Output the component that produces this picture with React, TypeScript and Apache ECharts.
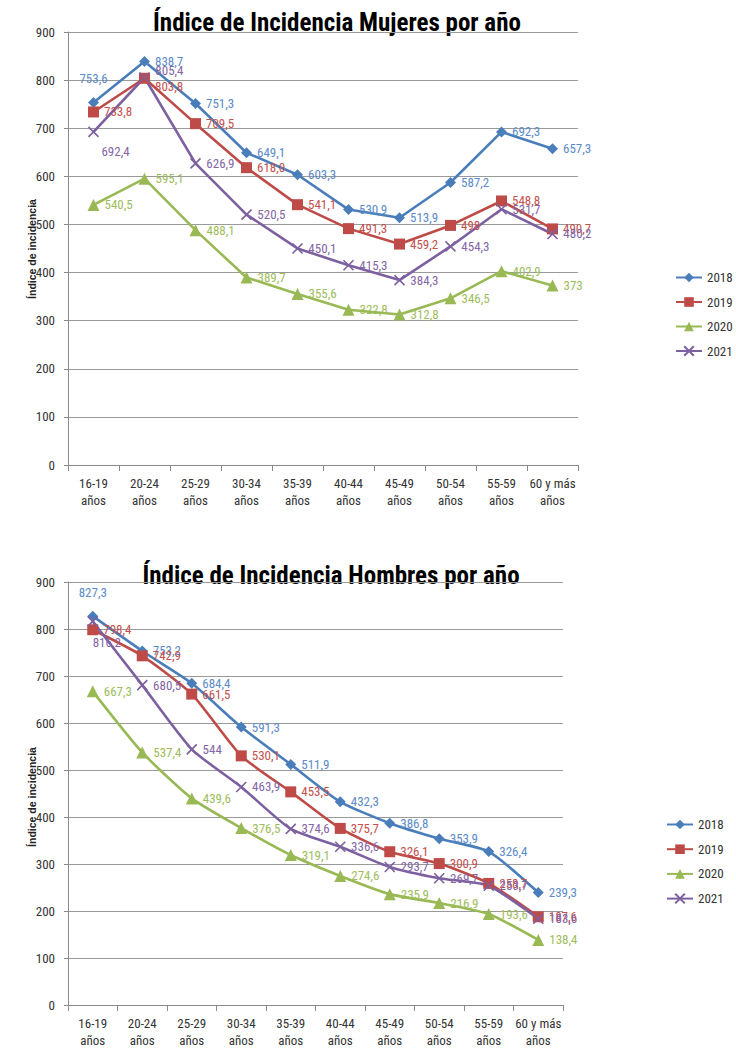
import React, { useEffect, useRef } from "react";
import * as echarts from "echarts";

const categories = [
  "16-19\naños", "20-24\naños", "25-29\naños", "30-34\naños", "35-39\naños",
  "40-44\naños", "45-49\naños", "50-54\naños", "55-59\naños", "60 y más\naños",
];
const seriesNames = ["2018", "2019", "2020", "2021"];

const mujeres2018 = [753.6, 838.7, 751.3, 649.1, 603.3, 530.9, 513.9, 587.2, 692.3, 657.3];
const mujeres2019 = [733.8, 803.8, 709.5, 618.0, 541.1, 491.3, 459.2, 498, 548.8, 490.7];
const mujeres2020 = [540.5, 595.1, 488.1, 389.7, 355.6, 322.8, 312.8, 346.5, 402.9, 373];
const mujeres2021 = [692.4, 805.4, 626.9, 520.5, 450.1, 415.3, 384.3, 454.3, 531.7, 480.2];

const hombres2018 = [827.3, 753.2, 684.4, 591.3, 511.9, 432.3, 386.8, 353.9, 326.4, 239.3];
const hombres2019 = [798.4, 742.9, 661.5, 530.1, 453.5, 375.7, 326.1, 300.9, 258.7, 187.6];
const hombres2020 = [667.3, 537.4, 439.6, 376.5, 319.1, 274.6, 235.9, 216.9, 193.6, 138.4];
const hombres2021 = [816.2, 680.5, 544, 463.9, 374.6, 336.6, 293.7, 269.7, 253.7, 183.6];

const yTicks = { min: 0, max: 900, interval: 100 };

const FONT = "'Liberation Sans Narrow', 'Roboto Condensed', 'Liberation Sans', Arial, sans-serif";
const lineColors = ["#4A7EBB", "#BE4B48", "#98B954", "#7D60A0"];
const labelColors = ["#5B8BC8", "#C4514E", "#9DBD5C", "#8466A6"];
const symbols = ["diamond", "rect", "triangle", "path://M0,0L10,10M10,0L0,10"];
const symbolSizes = [11, 11, 12, 10];

function fmt(p: any) {
  return String(p.value).replace(".", ",");
}
function fmtOneDecimal(p: any) {
  return Number(p.value).toFixed(1).replace(".", ",");
}

function makeSeries(
  idx: number,
  values: number[],
  gridIndex: number,
  overrides: Record<number, any>,
  smooth: boolean | number
) {
  const isX = idx === 3;
  return {
    name: seriesNames[idx],
    type: "line",
    xAxisIndex: gridIndex,
    yAxisIndex: gridIndex,
    smooth,
    symbol: symbols[idx],
    symbolSize: symbolSizes[idx],
    showAllSymbol: true,
    lineStyle: { color: lineColors[idx], width: 2.6 },
    itemStyle: {
      color: lineColors[idx],
      borderColor: lineColors[idx],
      borderWidth: isX ? 1.6 : 0,
    },
    label: {
      show: true,
      position: "right",
      distance: 5,
      color: labelColors[idx],
      fontFamily: FONT,
      fontSize: 13,
      formatter: fmt,
    },
    emphasis: { disabled: true },
    data: values.map((v, i) => (overrides[i] ? { value: v, label: overrides[i] } : v)),
  };
}

function makeAxes(gridIndex: number) {
  return {
    x: {
      type: "category",
      gridIndex,
      data: categories,
      boundaryGap: true,
      axisLine: { lineStyle: { color: "#8a8a8a", width: 1 } },
      axisTick: { show: true, length: 6, lineStyle: { color: "#8a8a8a" } },
      axisLabel: {
        color: "#333",
        fontFamily: FONT,
        fontSize: 13,
        lineHeight: 17,
        margin: 10,
        interval: 0,
      },
    },
    y: {
      type: "value",
      gridIndex,
      min: yTicks.min,
      max: yTicks.max,
      interval: yTicks.interval,
      axisLine: { show: true, lineStyle: { color: "#8a8a8a", width: 1 } },
      axisTick: { show: true, length: 4, lineStyle: { color: "#8a8a8a" } },
      splitLine: { show: true, lineStyle: { color: "#9a9a9a", width: 1 } },
      axisLabel: { color: "#333", fontFamily: FONT, fontSize: 13, margin: 13 },
    },
  };
}

function titleText(text: string, x: number, y: number) {
  return {
    type: "text",
    x,
    y,
    style: {
      text,
      fontFamily: FONT,
      fontSize: 25,
      fontWeight: "bold",
      fill: "#000",
      align: "center",
      verticalAlign: "middle",
    },
  };
}

function axisNameText(y: number) {
  return {
    type: "text",
    x: 32,
    y,
    rotation: Math.PI / 2,
    style: {
      text: "Índice de incidencia",
      fontFamily: "'Liberation Sans', Arial, sans-serif",
      fontSize: 10.5,
      fontWeight: "bold",
      fill: "#222",
      align: "center",
      verticalAlign: "middle",
    },
  };
}

export default function App() {
  const ref = useRef<HTMLDivElement>(null);
  useEffect(() => {
    if (!ref.current) return;
    const chart = echarts.init(ref.current, undefined, { renderer: "svg" });
    const a0 = makeAxes(0);
    const a1 = makeAxes(1);
    const legendBase = {
      orient: "vertical",
      data: seriesNames,
      itemWidth: 26,
      itemHeight: 12,
      itemGap: 12.5,
      textStyle: { color: "#333", fontFamily: FONT, fontSize: 13 },
      selectedMode: false,
    };
    chart.setOption({
      animation: false,
      backgroundColor: "#ffffff",
      grid: [
        { left: 68, right: 158, top: 32, height: 433 },
        { left: 68, right: 173, top: 582, height: 426 },
      ],
      xAxis: [a0.x, a1.x],
      yAxis: [a0.y, a1.y],
      legend: [
        { ...legendBase, left: 670, top: 266, itemGap: 11.5 },
        { ...legendBase, left: 661, top: 813, itemGap: 11.7 },
      ],
      graphic: [
        titleText("Índice de Incidencia Mujeres por año", 337, 22),
        titleText("Índice de Incidencia Hombres por año", 331, 575),
        axisNameText(249),
        axisNameText(797),
      ],
      series: [
        makeSeries(0, mujeres2018, 0, { 0: { position: "top", distance: 12 } }, false),
        makeSeries(
          1,
          mujeres2019,
          0,
          {
            1: { position: "right", offset: [0, 8] },
            3: { position: "right", formatter: fmtOneDecimal },
          },
          false
        ),
        makeSeries(2, mujeres2020, 0, {}, false),
        makeSeries(
          3,
          mujeres2021,
          0,
          {
            0: { position: "bottom", offset: [22, 2] },
            1: { position: "right", offset: [0, -7] },
          },
          false
        ),
        makeSeries(0, hombres2018, 1, { 0: { position: "top", distance: 12 } }, 0.2),
        makeSeries(1, hombres2019, 1, {}, 0.2),
        makeSeries(2, hombres2020, 1, {}, 0.2),
        makeSeries(3, hombres2021, 1, { 0: { position: "bottom", offset: [14, 4] } }, 0.2),
      ],
    });
    return () => chart.dispose();
  }, []);
  return (
    <div
      ref={ref}
      style={{ position: "absolute", left: 0, top: 0, width: 736, height: 1049 }}
    />
  );
}
